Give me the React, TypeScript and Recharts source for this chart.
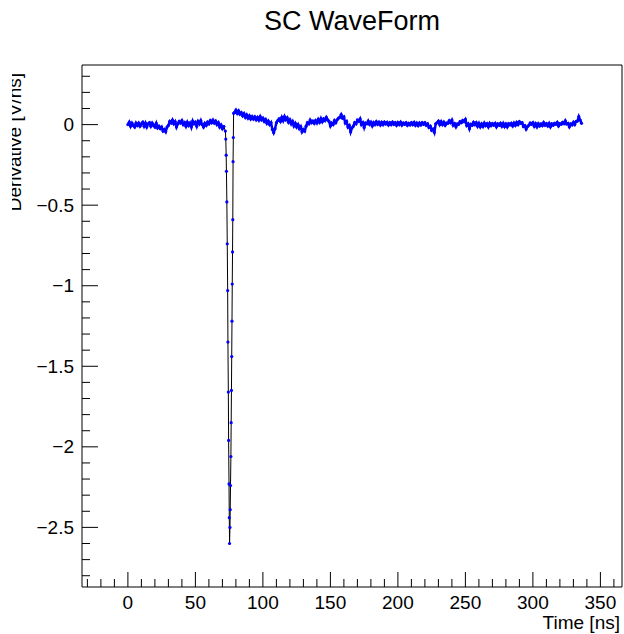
import { LineChart, Line, XAxis, YAxis, ReferenceLine, Label } from 'recharts';

const FONT = '"Liberation Sans", Arial, Helvetica, sans-serif';

// baseline before the pulse, 1 ns steps from t = 0
const earlyStartNs = 0;
const earlyDeriv = [
  0, 0.015, -0.01, 0.01, -0.005, -0.015, 0.01, -0.005, 0.01, -0.01,
  0.005, 0.015, -0.01, 0.01, -0.015, 0.005, 0.012, -0.01, 0.01, -0.005,
  -0.015, 0.008, -0.02, -0.01, -0.025, -0.015, -0.04, -0.03, -0.045, -0.015,
  -0.005, 0.02, 0.01, 0.028, 0.005, 0.018, -0.015, 0.005, 0.02, 0.01,
  0.025, 0, 0.012, -0.01, 0.015, -0.005, 0.01, -0.015, 0.022, 0.005,
  0.015, -0.01, 0.02, 0.005, 0.025, 0, -0.015, 0.008, -0.005, 0.015,
  0.005, 0.025, 0.012, 0.028, 0.01, 0.022, 0, 0.012, -0.015, -0.002,
  -0.025, -0.012,
];

// the fast negative pulse
const spikeTimeNs = [
  72.2, 72.5, 72.8, 73.0, 73.3, 73.6, 73.9, 74.1, 74.4, 74.6, 74.9, 75.1, 75.3,
  75.6, 75.8, 76.0, 76.3, 76.5, 76.7, 76.9, 77.1, 77.3, 77.5, 77.7, 77.9, 78.1, 78.3,
];
const spikeDeriv = [
  -0.04, -0.09, -0.19, -0.29, -0.48, -0.74, -1.03, -1.35, -1.66, -1.96, -2.23, -2.44, -2.6,
  -2.5, -2.39, -2.24, -2.06, -1.85, -1.65, -1.44, -1.22, -0.99, -0.79, -0.59, -0.23, -0.08, 0.07,
];

// tail after the pulse, 1 ns steps from t = 79
const lateStartNs = 79;
const lateDeriv = [
  0.075, 0.09, 0.07, 0.085, 0.065, 0.075, 0.055, 0.068, 0.045, 0.06,
  0.04, 0.055, 0.035, 0.05, 0.035, 0.048, 0.03, 0.045, 0.028, 0.05,
  0.03, 0.04, 0.02, 0.032, 0.008, 0.022, 0, 0.012, -0.03, -0.05,
  -0.025, 0.012, 0.025, 0.035, 0.02, 0.045, 0.025, 0.05, 0.03, 0.042,
  0.015, 0.03, 0.005, 0.02, -0.008, 0.008, -0.015, 0, -0.025, -0.012,
  -0.045, -0.03, -0.04, -0.01, 0.012, 0.005, 0.028, 0.012, 0.022, 0.008,
  0.025, 0.01, 0.032, 0.015, 0.038, 0.018, 0.035, 0.025, 0.045, 0.03,
  0.02, -0.008, 0.01, 0, 0.025, 0.012, 0.03, 0.04, 0.045, 0.062,
  0.04, 0.048, 0.01, 0.02, -0.015, -0.005, -0.045, -0.02, -0.01, 0.012,
  0.005, 0.028, 0.02, 0.035, 0, 0.012, -0.018, 0.01, 0.005, 0.022,
  0.002, 0.015, -0.008, 0.012, 0, 0.018, 0.002, 0.015, -0.002, 0.014,
  0, 0.016, 0.004, 0.014, -0.002, 0.012, 0, 0.015, 0.002, 0.012,
  -0.004, 0.013, 0, 0.015, -0.003, 0.01, 0.002, 0.012, -0.004, 0.008,
  -0.002, 0.012, 0, 0.014, -0.004, 0.01, -0.006, 0.01, -0.002, 0.012,
  0.002, 0.012, -0.004, 0.005, -0.018, -0.01, -0.035, -0.028, -0.048, 0.005,
  0.012, 0.022, 0, 0.018, 0, 0.015, -0.004, 0.01, 0.008, 0.024,
  0.012, 0.028, -0.004, 0.006, -0.014, 0.004, 0.002, 0.018, 0.012, 0.026,
  0.018, 0.032, -0.005, 0.005, -0.025, 0.002, -0.004, 0.014, 0, 0.012,
  -0.01, 0.008, -0.014, 0.004, -0.012, 0.01, -0.006, 0.005, -0.014, 0.008,
  -0.006, 0.006, -0.004, 0.008, -0.014, 0.004, -0.004, 0.008, -0.01, 0.008,
  -0.012, 0.004, -0.014, 0.006, -0.002, 0.008, -0.008, 0.01, -0.004, 0.014,
  0, 0.018, 0.008, 0.012, -0.012, -0.006, -0.028, -0.012, -0.004, 0.01,
  0.002, 0.012, -0.01, 0.006, -0.014, 0.006, -0.008, 0.004, -0.006, 0.012,
  -0.004, 0.006, -0.008, 0.008, -0.014, 0.004, -0.004, 0.008, 0.002, 0.014,
  -0.008, 0.006, 0.002, 0.014, 0.006, 0.024, 0.004, 0.008, -0.014, 0.004,
  -0.002, 0.014, 0, 0.02, 0.022, 0.05, 0.028, 0.008,
];

const xDomain = [-34, 366];
const yDomain = [-2.87, 0.37];

const xTicks = [
  -30, -20, -10, 0, 10, 20, 30, 40, 50, 60, 70, 80, 90, 100, 110, 120, 130, 140, 150, 160,
  170, 180, 190, 200, 210, 220, 230, 240, 250, 260, 270, 280, 290, 300, 310, 320, 330, 340, 350, 360,
];
const yTicks = [
  -2.8, -2.7, -2.6, -2.5, -2.4, -2.3, -2.2, -2.1, -2, -1.9, -1.8, -1.7, -1.6, -1.5, -1.4, -1.3,
  -1.2, -1.1, -1, -0.9, -0.8, -0.7, -0.6, -0.5, -0.4, -0.3, -0.2, -0.1, 0, 0.1, 0.2, 0.3,
];

// bv = baseline samples (dense blue band), pv = pulse samples (thin black line)
const lastEarly = earlyDeriv.length - 1;
const points = [
  ...earlyDeriv.map((v, i) => ({ t: earlyStartNs + i, bv: v, pv: i === lastEarly ? v : undefined })),
  ...spikeTimeNs.map((t, i) => ({ t, pv: spikeDeriv[i] })),
  ...lateDeriv.map((v, i) => ({ t: lateStartNs + i, bv: v, pv: i === 0 ? v : undefined })),
];

const fmt = (v: number) => String(Math.round(v * 10) / 10).replace('-', '\u2212');

function XTick({ x, y, payload }: any) {
  const v = payload.value;
  const major = Math.abs(v % 50) < 1e-6;
  return (
    <g>
      <line x1={x} x2={x} y1={y} y2={y - (major ? 15 : 8)} stroke="#000" />
      {major && (
        <text x={x} y={y + 22} textAnchor="middle" fontSize={19} fontFamily={FONT} fill="#000">
          {fmt(v)}
        </text>
      )}
    </g>
  );
}

function YTick({ x, y, payload }: any) {
  const v = payload.value;
  const major = Math.abs(v * 2 - Math.round(v * 2)) < 1e-6;
  return (
    <g>
      <line x1={x} x2={x + (major ? 16 : 8)} y1={y} y2={y} stroke="#000" />
      {major && (
        <text x={x - 8} y={y} dy="0.35em" textAnchor="end" fontSize={19} fontFamily={FONT} fill="#000">
          {fmt(v)}
        </text>
      )}
    </g>
  );
}

const renderYTitle = () => (
  <g>
    <defs>
      <clipPath id="ytitle-clip">
        <rect x={12} y={0} width={40} height={634} />
      </clipPath>
    </defs>
    <g clipPath="url(#ytitle-clip)">
      <text
        transform="translate(21,73) rotate(-90)"
        textAnchor="end"
        fontSize={19}
        fontFamily={FONT}
        fill="#000"
      >
        Derivative [V/ns]
      </text>
    </g>
  </g>
);

const renderXTitle = () => (
  <text x={620} y={629} textAnchor="end" fontSize={19} fontFamily={FONT} fill="#000">
    Time [ns]
  </text>
);

const blueDot = (p: any) =>
  p.cy == null ? <g key={`e${p.dataKey}${p.index}`} /> : (
    <circle key={`d${p.dataKey}${p.index}`} cx={p.cx} cy={p.cy} r={1.6} fill="#0000ff" stroke="none" />
  );

export default function App() {
  return (
    <div style={{ position: 'absolute', left: 0, top: 0, width: 624, height: 634, background: '#fff' }}>
      <div
        style={{
          position: 'absolute',
          left: 0,
          top: 8,
          width: 704,
          textAlign: 'center',
          fontFamily: FONT,
          fontSize: 27,
          lineHeight: '27px',
          color: '#000',
        }}
      >
        SC WaveForm
      </div>
      <LineChart width={624} height={634} data={points} margin={{ top: 65, right: 2, bottom: 0, left: 0 }}>
        <XAxis
          dataKey="t"
          type="number"
          domain={xDomain}
          allowDataOverflow
          ticks={xTicks}
          interval={0}
          height={47}
          tickSize={0}
          tickMargin={0}
          tickLine={false}
          axisLine={{ stroke: '#000' }}
          tick={<XTick />}
        >
          <Label content={renderXTitle} />
        </XAxis>
        <YAxis
          type="number"
          domain={yDomain}
          allowDataOverflow
          ticks={yTicks}
          interval={0}
          width={82}
          tickSize={0}
          tickMargin={0}
          tickLine={false}
          axisLine={{ stroke: '#000' }}
          tick={<YTick />}
        >
          <Label content={renderYTitle} />
        </YAxis>
        <ReferenceLine y={yDomain[1]} stroke="#000" ifOverflow="visible" />
        <ReferenceLine x={xDomain[1]} stroke="#000" ifOverflow="visible" />
        <Line
          dataKey="pv"
          type="linear"
          stroke="#000"
          strokeWidth={1}
          connectNulls={false}
          isAnimationActive={false}
          activeDot={false}
          dot={blueDot}
        />
        <Line
          dataKey="bv"
          type="linear"
          stroke="#0000ff"
          strokeWidth={2.5}
          connectNulls={false}
          isAnimationActive={false}
          activeDot={false}
          dot={blueDot}
        />
      </LineChart>
    </div>
  );
}
